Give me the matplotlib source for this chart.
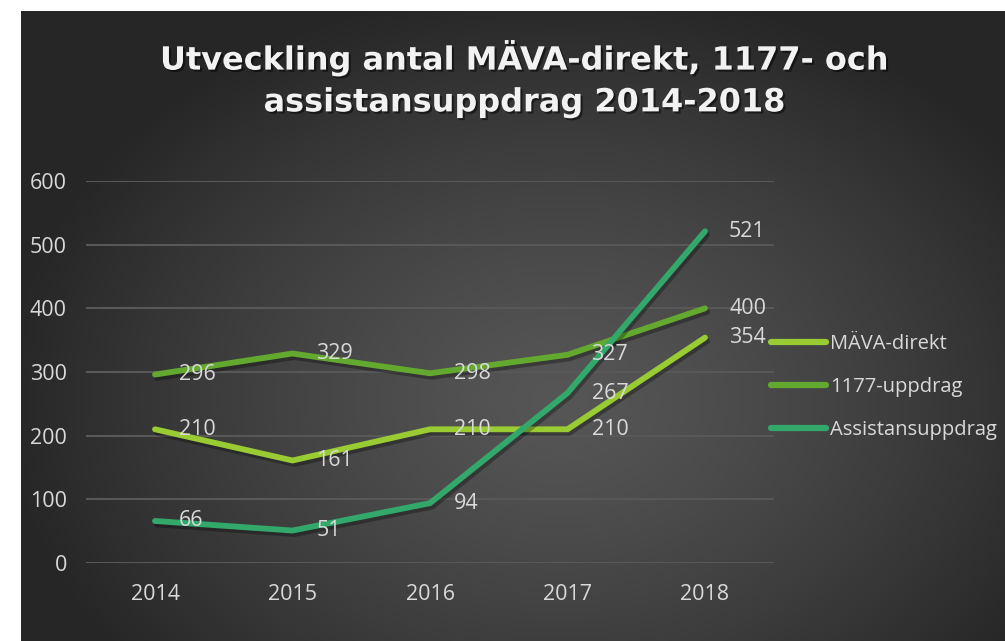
import matplotlib

matplotlib.use("Agg")
import matplotlib.pyplot as plt
import matplotlib.patheffects as pe
import numpy as np

years = ["2014", "2015", "2016", "2017", "2018"]
series_names = ["MÄVA-direkt", "1177-uppdrag", "Assistansuppdrag"]
mava = [210, 161, 210, 210, 354]
uppdrag_1177 = [296, 329, 298, 327, 400]
assistans = [66, 51, 94, 267, 521]
y_ticks = [0, 100, 200, 300, 400, 500, 600]

title = "Utveckling antal MÄVA-direkt, 1177- och\nassistansuppdrag 2014-2018"

COLORS = ["#99cc33", "#63a92f", "#33a86b"]
TEXT = "#d9d9d9"
GRID = "#585858"
FONT = "Open Sans"
FS = 15.5

W, H = 1005, 641
fig = plt.figure(figsize=(W / 100, H / 100), dpi=100)
fig.patch.set_facecolor("white")

# dark radial-gradient panel (white margin left/top like the screenshot)
bg = fig.add_axes([21 / W, 0, 1 - 21 / W, 1 - 11 / H])
bg.set_axis_off()
gx, gy = np.meshgrid(np.linspace(21, W, 400), np.linspace(11, H, 260))
r = np.sqrt(((gx - 560) / 560) ** 2 + ((gy - 400) / 420) ** 2)
shade = 0x56 - (0x56 - 0x26) * np.clip(r, 0, 1) ** 1.3
img = np.dstack([shade, shade, shade]) / 255.0
bg.imshow(img, aspect="auto", extent=(0, 1, 0, 1), origin="upper")
bg.set_xlim(0, 1)
bg.set_ylim(0, 1)

ax = fig.add_axes([86.25 / W, (H - 563) / H, 687.5 / W, 382 / H])
ax.patch.set_visible(False)
x = np.arange(len(years))

shadow = [pe.SimpleLineShadow(offset=(1.5, -2.5), shadow_color="black", alpha=0.3),
          pe.Normal()]
for vals, name, col in zip([mava, uppdrag_1177, assistans], series_names, COLORS):
    ax.plot(x, vals, color=col, lw=4.2, solid_capstyle="round",
            solid_joinstyle="miter", label=name, zorder=3, clip_on=False,
            path_effects=shadow)
    for xi, v in zip(x, vals):
        ax.annotate(str(v), (xi, v), xytext=(24, 0), textcoords="offset pixels",
                    ha="left", va="center", fontsize=FS, color=TEXT,
                    family=FONT, zorder=4)

ax.set_xlim(-0.5, len(years) - 0.5)
ax.set_ylim(0, 600)
ax.set_yticks(y_ticks)
ax.set_xticks(x)
ax.set_xticklabels(years)
ax.tick_params(length=0, colors=TEXT, labelsize=FS)
ax.tick_params(axis="y", pad=14)
ax.tick_params(axis="x", pad=15)
for lab in ax.get_xticklabels() + ax.get_yticklabels():
    lab.set_family(FONT)
ax.yaxis.grid(True, color=GRID, lw=1.5, zorder=0)
ax.set_axisbelow(True)
for s in ax.spines.values():
    s.set_visible(False)

leg = ax.legend(loc="center left", bbox_to_anchor=(771 / W, 1 - 387 / H),
                bbox_transform=fig.transFigure, frameon=False, borderpad=0,
                borderaxespad=0, handlelength=2.75, handletextpad=0.2,
                labelspacing=1.15, prop={"family": FONT, "size": 14.5})
for t in leg.get_texts():
    t.set_color(TEXT)
for h in leg.legend_handles:
    h.set_path_effects([])
    h.set_linewidth(4.5)

fig.text(525 / W, 1 - 79 / H, title, ha="center", va="center",
         fontsize=23, fontweight="bold", family="DejaVu Sans", color="#f2f2f2",
         linespacing=1.45,
         path_effects=[pe.withSimplePatchShadow(offset=(1.5, -1.5),
                                                shadow_rgbFace="black",
                                                alpha=0.5)])

fig.savefig("out.png", dpi=100, facecolor="white")
